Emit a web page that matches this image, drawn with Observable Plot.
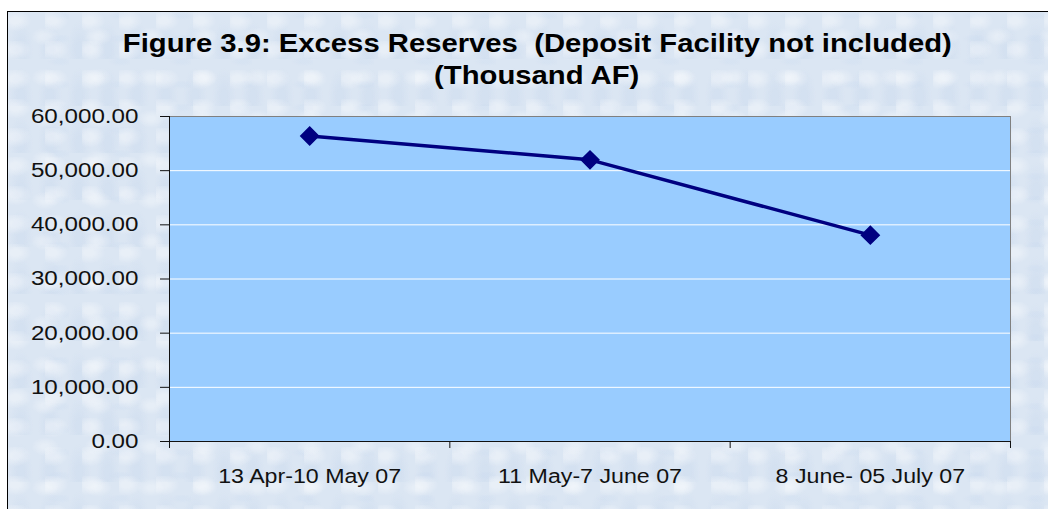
<!DOCTYPE html>
<html>
<head>
<meta charset="utf-8">
<script src="https://cdn.jsdelivr.net/npm/d3@7"></script>
<script src="https://cdn.jsdelivr.net/npm/@observablehq/plot@0.6"></script>
<style>
  html, body { margin: 0; padding: 0; background: #fff; }
  #wrap { position: relative; width: 1048px; height: 509px; overflow: hidden; font-family: "Liberation Sans", Arial, sans-serif; }
  #frame {
    position: absolute; left: 7px; top: 11px; width: 1100px; height: 600px;
    border: 1px solid #000;
    background-color: #dbe6f3;
    background-image:
      radial-gradient(ellipse at 20% 30%, rgba(255,255,255,0.35) 0 5px, transparent 16px),
      radial-gradient(ellipse at 70% 60%, rgba(255,255,255,0.3) 0 4px, transparent 14px),
      radial-gradient(ellipse at 45% 80%, rgba(195,212,235,0.3) 0 3px, transparent 12px),
      radial-gradient(ellipse at 85% 15%, rgba(205,220,240,0.3) 0 4px, transparent 13px);
    background-size: 37px 29px, 53px 41px, 29px 47px, 61px 23px;
  }
  #title {
    position: absolute; left: 0; width: 1074px; top: 27px;
    text-align: center; font-weight: bold; font-size: 25px; line-height: 32px; color: #000;
  }
  #title span { display: inline-block; transform: scaleX(1.17); transform-origin: center; white-space: pre; }
  #chart { position: absolute; left: 0; top: 0; }
</style>
</head>
<body>
<div id="wrap">
  <div id="frame"></div>
  <div id="title"><span>Figure 3.9: Excess Reserves  (Deposit Facility not included)</span><br><span>(Thousand AF)</span></div>
  <div id="chart"></div>
</div>
<script>
const categories = ["13 Apr-10 May 07", "11 May-7 June 07", "8 June- 05 July 07"];
const values = [56400, 52000, 38100];
const yTicks = [0, 10000, 20000, 30000, 40000, 50000, 60000];

const data = categories.map((c, i) => ({pos: i + 0.5, value: values[i], label: c}));
const centers = categories.map((c, i) => i + 0.5);
const bounds = [0, ...categories.map((c, i) => i + 1)];
const fmt = d3.format(",.2f");

const plot = Plot.plot({
  width: 1048,
  height: 509,
  marginLeft: 169,
  marginRight: 38,
  marginTop: 116,
  marginBottom: 68,
  style: {background: "transparent", fontFamily: "'Liberation Sans', Arial, sans-serif", color: "#000", overflow: "visible"},
  x: {domain: [0, categories.length]},
  y: {domain: [0, 60000]},
  marks: [
    Plot.frame({fill: "#99CCFF", stroke: "#808080"}),
    Plot.gridY(yTicks.slice(1, -1), {stroke: "#fff", strokeOpacity: 1, strokeWidth: 1}),
    Plot.ruleX([0], {stroke: "#111", strokeWidth: 1}),
    Plot.ruleY([0], {stroke: "#111", strokeWidth: 1}),
    Plot.axisY({ticks: yTicks, tickSize: 9, tickPadding: 22, tickFormat: fmt, fontSize: 20, color: "#111", label: null}),
    Plot.axisX({ticks: bounds, tickSize: 7, tickFormat: () => "", color: "#111", label: null}),
    Plot.axisX({ticks: centers, tickSize: 0, tickPadding: 27, fontSize: 20, color: "#111", tickFormat: d => categories[Math.round(d - 0.5)], label: null}),
    Plot.line(data, {x: "pos", y: "value", stroke: "#000080", strokeWidth: 3.5}),
    Plot.dot(data, {x: "pos", y: "value", symbol: "diamond2", r: 8, fill: "#000080", stroke: "#000080"})
  ]
});

function stretch(sel, s) {
  plot.querySelectorAll(sel).forEach(t => {
    let tr = t.getAttribute("transform");
    if (tr == null) {
      const x = t.getAttribute("x") || 0, y = t.getAttribute("y") || 0;
      t.removeAttribute("x"); t.removeAttribute("y");
      tr = `translate(${x},${y})`;
    }
    t.setAttribute("transform", tr + ` scale(${s},1)`);
  });
}
stretch('[aria-label="y-axis tick label"] text', 1.21);
stretch('[aria-label="x-axis tick label"] text', 1.16);
document.getElementById("chart").appendChild(plot);
</script>
</body>
</html>
